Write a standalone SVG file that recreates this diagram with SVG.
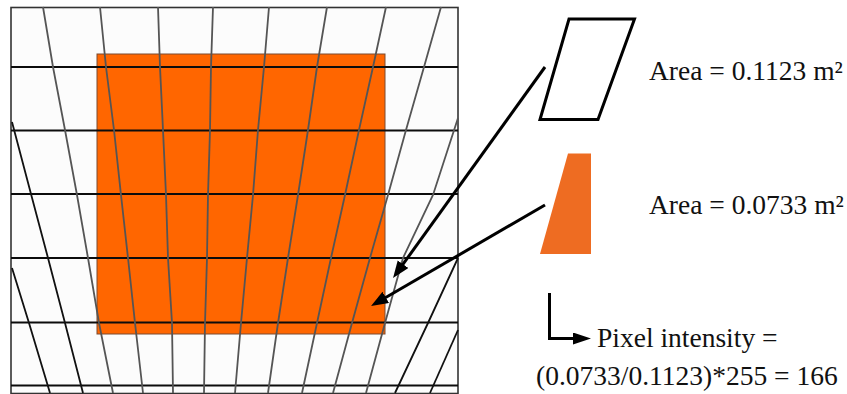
<svg xmlns="http://www.w3.org/2000/svg" width="847" height="394" viewBox="0 0 847 394">
<style>
.t{font-family:"Liberation Serif","Times New Roman",serif;font-size:27.5px;fill:#111}
.h{fill:none;stroke:#0c0c0c;stroke-width:2}
.g{fill:none;stroke:#555;stroke-width:1.800}
.k{fill:none;stroke:#111;stroke-width:1.800}
.a{fill:none;stroke:#000;stroke-width:3}
</style>
<defs>
<marker id="ah" markerUnits="userSpaceOnUse" markerWidth="18" markerHeight="14" refX="7" refY="6.500" orient="auto"><path d="M0,0L17,6.500L0,13Z" fill="#000"/></marker>
<marker id="ah2" markerUnits="userSpaceOnUse" markerWidth="19" markerHeight="13" refX="8" refY="6" orient="auto"><path d="M0,0L18,6L0,12Z" fill="#000"/></marker>
</defs>
<rect width="847" height="394" fill="#fff"/>
<g id="grid-panel">
<rect x="11" y="7.500" width="447" height="386" fill="#fcfcfc" stroke="#333" stroke-width="1.600"/>
<rect id="orange-square" x="97" y="54" width="288" height="280" fill="#ff6600" stroke="#7a4a30" stroke-width="1"/>
<g id="grid-lines">
<path class="h" d="M11,67H458M11,130.500H458M11,194H458M11,258H458M11,322.500H458M11,385.500H458"/>
<path class="g" d="M43,7L53,67L65,130L77,195L88,258L99,323L113,393"/>
<path class="g" d="M100,7L106,67L114,130L121,195L128,258L135,323L143,393"/>
<path class="g" d="M158,7L160,67L163,130L166,195L168,258L172,323L173,393"/>
<path class="g" d="M213,7L211,67L210,130L208,195L207,258L205,323L204,393"/>
<path class="g" d="M269,7L264,67L258,130L253,195L247,258L241,323L235,393"/>
<path class="g" d="M327,7L317,67L308,130L298,195L288,258L278,323L268,393"/>
<path class="g" d="M386,7L373,67L359,130L345,195L331,258L317,323L302,393"/>
<path class="g" d="M441,7L424,67L406,130L388,195L370,258L352,323L333,393"/>
<path class="g" d="M458,118L433,195L403,258L385,323L366,393"/>
<path class="k" d="M458,258L428,323L395,393"/>
<path class="k" d="M458,330L430,393"/>
<path class="k" d="M12,122L31,194L48,258L65,323L83,393"/>
<path class="k" d="M12,268L29,323L50,393"/>
</g>
</g>
<g id="parallelogram"><path d="M569,19H634.500L598,119.500H540Z" fill="#fff" stroke="#000" stroke-width="3"/></g>
<g id="trapezoid"><path d="M568,153.500H591V254H540Z" fill="#ee6c22"/></g>
<g id="connectors">
<path class="a" d="M545,67L398.900,269.900" marker-end="url(#ah)"/>
<path class="a" d="M545,205L379.700,301" marker-end="url(#ah)"/>
<path class="a" d="M549.500,293V338.500H581" marker-end="url(#ah2)"/>
</g>
<g id="labels">
<text class="t" x="649" y="80">Area = 0.1123 m²</text>
<text class="t" x="649" y="214">Area = 0.0733 m²</text>
<text class="t" x="597" y="347">Pixel intensity =</text>
<text class="t" x="536" y="385">(0.0733/0.1123)*255 = 166</text>
</g>
</svg>
